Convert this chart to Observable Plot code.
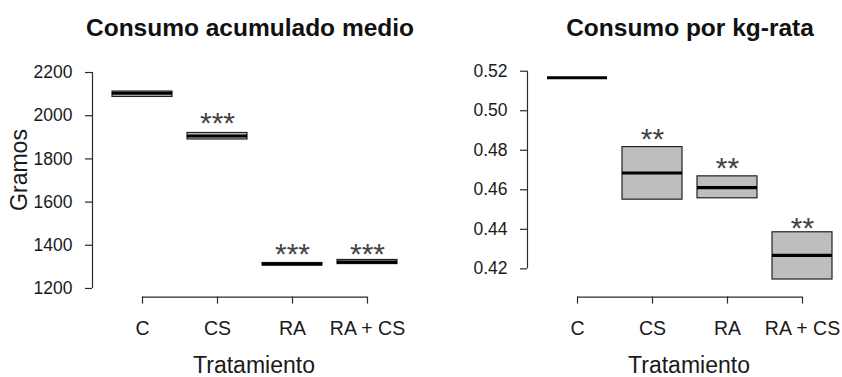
<!DOCTYPE html>
<html>
<head>
<meta charset="utf-8">
<script src="https://cdn.jsdelivr.net/npm/d3@7"></script>
<script src="https://cdn.jsdelivr.net/npm/@observablehq/plot@0.6"></script>
<style>
  html, body { margin: 0; padding: 0; background: #fff; }
  #wrap { position: relative; width: 842px; height: 377px; overflow: hidden; background: #fff;
          font-family: "Liberation Sans", Arial, sans-serif; color: #1a1a1a; }
  .panel { position: absolute; top: 0; }
  .title { position: absolute; width: 420px; text-align: center; font-weight: bold;
           font-size: 24.5px; line-height: 24px; color: #111; white-space: nowrap; }
  .xlab { position: absolute; width: 300px; text-align: center; font-size: 23px; line-height: 23px;
          color: #1a1a1a; white-space: nowrap; }
  .ylab { position: absolute; width: 200px; height: 24px; line-height: 24px; text-align: center;
          font-size: 23px; transform: rotate(-90deg); color: #1a1a1a; white-space: nowrap; }
</style>
</head>
<body>
<div id="wrap"></div>
<script>
// ---- data ----
const categories = ["C", "CS", "RA", "RA + CS"];

// Panel 1: Consumo acumulado medio (gramos)
const gramosQ1     = [2087, 1890, 1308, 1313];
const gramosMedian = [2104, 1906, 1313, 1322];
const gramosQ3     = [2112, 1920, 1318, 1332];
const gramosStars  = ["", "***", "***", "***"];
const gramosStarY  = [null, 2001, 1395, 1395];
const gramosTicks  = [1200, 1400, 1600, 1800, 2000, 2200];

// Panel 2: Consumo por kg-rata
const kgQ1     = [0.5167, 0.4550, 0.4557, 0.4146];
const kgMedian = [0.5167, 0.4685, 0.4611, 0.4268];
const kgQ3     = [0.5167, 0.4816, 0.4668, 0.4385];
const kgStars  = ["", "**", "**", "**"];
const kgStarY  = [null, 0.4895, 0.4747, 0.4446];
const kgTicks  = [0.42, 0.44, 0.46, 0.48, 0.50, 0.52];

const titles = ["Consumo acumulado medio", "Consumo por kg-rata"];
const xLabel = "Tratamiento";
const yLabel = "Gramos";

// ---- build ----
const rows = (q1, med, q3, starY, stars) =>
  categories.map((c, i) => ({cat: c, idx: i + 1, q1: q1[i], med: med[i], q3: q3[i], sy: starY[i], star: stars[i]}));

function panel({data, yDomain, yTicks, yFormat, width, marginLeft, marginRight, xDomain}) {
  const H = 377, top = 63.4, bottom = 377 - 296.6;
  return Plot.plot({
    width, height: H,
    marginTop: top, marginBottom: bottom, marginLeft, marginRight,
    style: {fontFamily: '"Liberation Sans", Arial, sans-serif', color: "#1a1a1a", background: "transparent", overflow: "visible"},
    x: {type: "linear", domain: xDomain, axis: null},
    y: {domain: yDomain, axis: null},
    marks: [
      Plot.ruleX([xDomain[0]], {y1: yTicks[0], y2: yTicks[yTicks.length - 1], stroke: "#2a2a2a", strokeWidth: 1.2}),
      Plot.ruleY([yDomain[0]], {x1: 1, x2: categories.length, stroke: "#2a2a2a", strokeWidth: 1.2}),
      Plot.axisY({ticks: yTicks, tickFormat: yFormat, tickSize: 7, tickPadding: 13, fontSize: 17.5,
                  stroke: "#2a2a2a", strokeWidth: 1.2, label: null, anchor: "left"}),
      Plot.axisX({ticks: [1, 2, 3, 4], tickFormat: d => categories[d - 1], tickSize: 7, tickPadding: 17,
                  fontSize: 19.5, stroke: "#2a2a2a", strokeWidth: 1.2, label: null, anchor: "bottom"}),
      Plot.rect(data, {x1: d => d.idx - 0.4, x2: d => d.idx + 0.4, y1: "q1", y2: "q3",
                       fill: "#bebebe", stroke: "#222", strokeWidth: 1.2}),
      Plot.ruleY(data, {y: "med", x1: d => d.idx - 0.4, x2: d => d.idx + 0.4, stroke: "#000", strokeWidth: 3.2}),
      Plot.text(data.filter(d => d.star), {x: "idx", y: "sy", text: "star", fontSize: 30, dy: 8,
                       fontFamily: '"Liberation Sans", Arial, sans-serif',
                       fill: "#444", textAnchor: "middle", lineAnchor: "middle"})
    ]
  });
}

const wrap = document.getElementById("wrap");

// left panel
const p1 = panel({
  data: rows(gramosQ1, gramosMedian, gramosQ3, gramosStarY, gramosStars),
  yDomain: [1160, 2240], yTicks: gramosTicks, yFormat: d3.format("d"),
  width: 421, marginLeft: 92, marginRight: 5,
  xDomain: [1 / 3, 1 / 3 + 324 / 75]
});
const d1 = document.createElement("div"); d1.className = "panel"; d1.style.left = "0px"; d1.appendChild(p1); wrap.appendChild(d1);

// right panel
const p2 = panel({
  data: rows(kgQ1, kgMedian, kgQ3, kgStarY, kgStars),
  yDomain: [0.4057, 0.5237], yTicks: kgTicks, yFormat: d3.format(".2f"),
  width: 421, marginLeft: 106, marginRight: 0,
  xDomain: [1 / 3, 1 / 3 + 315 / 75]
});
const d2 = document.createElement("div"); d2.className = "panel"; d2.style.left = "421px"; d2.appendChild(p2); wrap.appendChild(d2);

// titles and axis labels
function addDiv(cls, text, css) {
  const el = document.createElement("div");
  el.className = cls; el.textContent = text;
  Object.assign(el.style, css);
  wrap.appendChild(el);
}
addDiv("title", titles[0], {left: (250 - 210) + "px", top: "15.5px"});
addDiv("title", titles[1], {left: (690 - 210) + "px", top: "15.5px"});
addDiv("xlab", xLabel, {left: (254 - 150) + "px", top: "353.5px"});
addDiv("xlab", xLabel, {left: (689 - 150) + "px", top: "353.5px"});
addDiv("ylab", yLabel, {left: (19 - 100) + "px", top: (170 - 12) + "px"});
</script>
</body>
</html>
